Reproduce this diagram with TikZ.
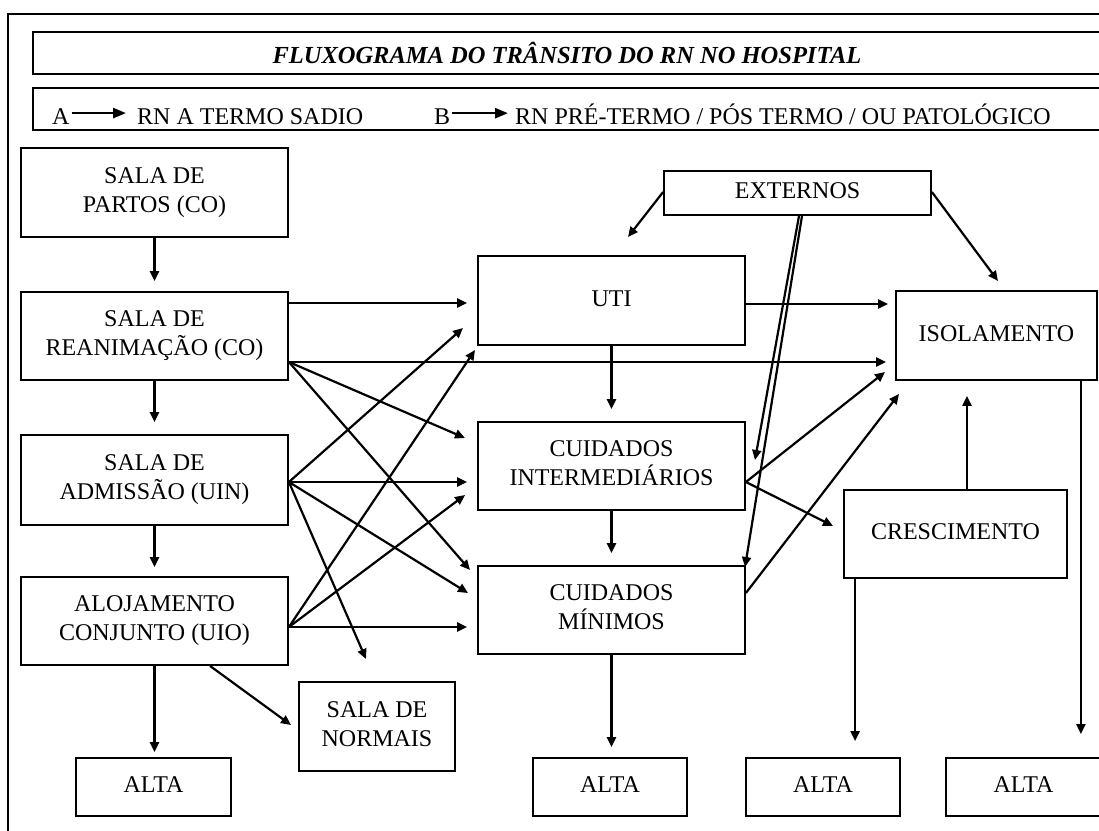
\documentclass[tikz,border=0pt]{standalone}
\usepackage{fontspec}
\setmainfont{Liberation Serif}
\usetikzlibrary{arrows.meta}
\newcommand\nodefont{\fontsize{24}{29}\selectfont}
\newcommand\ttlfont{\fontsize{24.5}{29}\selectfont\bfseries\itshape}
\begin{document}
\begin{tikzpicture}[x=1pt,y=-1pt,
  box/.style={draw,line width=1.8pt,inner sep=0pt,align=center,font=\nodefont,execute at end node={\vphantom{(}}},
  frame/.style={draw,line width=1.8pt,inner sep=0pt},
  arr/.style={line width=2.2pt,-{Triangle[length=10pt,width=9pt]}},
  legarr/.style={line width=2.6pt,-{Triangle[length=13pt,width=10pt]}},
  legtxt/.style={font=\nodefont,inner sep=0pt,anchor=base west}]
\useasboundingbox (0,0) rectangle (1099,830);
\clip (0,0) rectangle (1099,830);
\fill[white] (0,0) rectangle (1099,830);
% frame, title and legend
\node[frame,minimum width=1102pt,minimum height=826pt] (outer) at (559,427) {};
\node[frame,minimum width=1070pt,minimum height=42pt] (titlebox) at (568,53) {};
\node[font=\ttlfont,inner sep=0pt,anchor=base] (title) at (567,63) {FLUXOGRAMA DO TRÂNSITO DO RN NO HOSPITAL};
\node[frame,minimum width=1070pt,minimum height=42pt] (legbox) at (568,109) {};
\node[legtxt] (legA) at (52,124) {A};
\node[legtxt] (legAt) at (137,124) {RN A TERMO SADIO};
\node[legtxt] (legB) at (434,124) {B};
\node[legtxt] (legBt) at (515,124) {RN PRÉ-TERMO / PÓS TERMO / OU PATOLÓGICO};
\coordinate (la1) at ([xshift=2pt,yshift=3pt]legA.east);
\coordinate (la2) at (legAt.west |- la1);
\coordinate (lb1) at ([xshift=2pt,yshift=3pt]legB.east);
\coordinate (lb2) at (legBt.west |- lb1);
\draw[legarr,shorten >=11pt] (la1) -- (la2);
\draw[legarr,shorten >=7pt] (lb1) -- (lb2);
% nodes
\node[box,minimum width=267pt,minimum height=89pt] (PARTOS) at (154.5,192.5) {SALA DE\\PARTOS (CO)};
\node[box,minimum width=267pt,minimum height=88pt] (REAN) at (154.5,336) {SALA DE\\REANIMAÇÃO (CO)};
\node[box,minimum width=267pt,minimum height=90pt] (ADM) at (154.5,480) {SALA DE\\ADMISSÃO (UIN)};
\node[box,minimum width=267pt,minimum height=88pt] (ALOJ) at (154.5,621) {ALOJAMENTO\\CONJUNTO (UIO)};
\node[box,minimum width=155pt,minimum height=58pt] (ALTA1) at (153.5,787) {ALTA};
\node[box,minimum width=156pt,minimum height=89pt] (NORM) at (377,726.5) {SALA DE\\NORMAIS};
\node[box,minimum width=267pt,minimum height=44pt] (EXT) at (797.5,193) {EXTERNOS};
\node[box,minimum width=267pt,minimum height=89pt] (UTI) at (611.5,300.5) {UTI};
\node[box,minimum width=267pt,minimum height=88pt] (CI) at (611.5,466) {CUIDADOS\\INTERMEDIÁRIOS};
\node[box,minimum width=267pt,minimum height=88pt] (MIN) at (611.5,610) {CUIDADOS\\MÍNIMOS};
\node[box,minimum width=201pt,minimum height=89pt] (ISO) at (996.5,335.5) {ISOLAMENTO};
\node[box,minimum width=223pt,minimum height=88pt] (CRESC) at (955.5,534) {CRESCIMENTO};
\node[box,minimum width=154pt,minimum height=58pt] (ALTA2) at (610,787) {ALTA};
\node[box,minimum width=154pt,minimum height=58pt] (ALTA3) at (823,787) {ALTA};
\node[box,minimum width=155pt,minimum height=58pt] (ALTA4) at (1023.5,787) {ALTA};
% connector start points
\coordinate (rE1) at ([yshift=33pt]REAN.east);
\coordinate (rE2) at ([yshift=-26pt]REAN.east);
\coordinate (aE) at ([yshift=-2pt]ADM.east);
\coordinate (oE) at ([yshift=-6pt]ALOJ.east);
\coordinate (uE) at ([yshift=-3.5pt]UTI.east);
\coordinate (cE) at ([yshift=-16pt]CI.east);
\coordinate (mE) at ([yshift=17pt]MIN.east);
\coordinate (xW) at ([yshift=1pt]EXT.west);
\coordinate (xEa) at ([yshift=1pt]EXT.east);
\coordinate (xS1) at ([xshift=1.5pt]EXT.south);
\coordinate (xS2) at ([xshift=4.5pt]EXT.south);
\coordinate (oS) at ([xshift=55.5pt]ALOJ.south);
\coordinate (crS) at ([xshift=12pt]CRESC.south west);
\coordinate (crN) at ([xshift=11.5pt]CRESC.north);
\coordinate (isS) at ([xshift=-17pt]ISO.south east);
% free arrow tips
\coordinate (tRC) at (465,438);
\coordinate (tRM) at (470,570);
\coordinate (tAU) at (463,328);
\coordinate (tAM) at (468,593);
\coordinate (tAN) at (366,659);
\coordinate (tOU) at (475,350);
\coordinate (tOC) at (465,495);
\coordinate (tON) at (291,725);
\coordinate (tXU) at (628,237);
\coordinate (tXI) at (998,281);
\coordinate (tXC) at (755,460);
\coordinate (tXM) at (745,567);
\coordinate (tCI) at (885,372);
\coordinate (tCC) at (833,526);
\coordinate (tMI) at (899,394);
% vertical connectors
\draw[arr,shorten >=10pt] (PARTOS.south) -- (PARTOS.south |- REAN.north);
\draw[arr,shorten >=12pt] (REAN.south) -- (REAN.south |- ADM.north);
\draw[arr,shorten >=9pt] (ADM.south) -- (ADM.south |- ALOJ.north);
\draw[arr,shorten >=5pt] (ALOJ.south) -- (ALOJ.south |- ALTA1.north);
\draw[arr,shorten >=12pt] (UTI.south) -- (UTI.south |- CI.north);
\draw[arr,shorten >=12pt] (CI.south) -- (CI.south |- MIN.north);
\draw[arr,shorten >=10pt] (MIN.south) -- (MIN.south |- ALTA2.north);
\draw[arr,shorten >=16pt] (crS) -- (crS |- ALTA3.north);
\draw[arr,shorten >=15pt] (crN) -- (crN |- ISO.south);
\draw[arr,shorten >=23pt] (isS) -- (isS |- ALTA4.north);
% horizontal connectors
\draw[arr,shorten >=10pt] (rE1) -- (rE1 -| UTI.west);
\draw[arr,shorten >=9pt] (rE2) -- (rE2 -| ISO.west);
\draw[arr,shorten >=10pt] (aE) -- (aE -| CI.west);
\draw[arr,shorten >=10pt] (oE) -- (oE -| MIN.west);
\draw[arr,shorten >=7pt] (uE) -- (uE -| ISO.west);
% diagonal connectors
\draw[arr] (rE2) -- (tRC);
\draw[arr] (rE2) -- (tRM);
\draw[arr] (aE) -- (tAU);
\draw[arr] (aE) -- (tAM);
\draw[arr] (aE) -- (tAN);
\draw[arr] (oE) -- (tOU);
\draw[arr] (oE) -- (tOC);
\draw[arr] (oS) -- (tON);
\draw[arr] (xW) -- (tXU);
\draw[arr] (xEa) -- (tXI);
\draw[arr] (xS1) -- (tXC);
\draw[arr] (xS2) -- (tXM);
\draw[arr] (cE) -- (tCI);
\draw[arr] (cE) -- (tCC);
\draw[arr] (mE) -- (tMI);
\end{tikzpicture}
\end{document}
